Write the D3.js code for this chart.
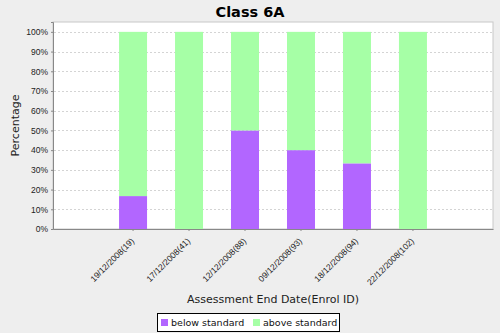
<!DOCTYPE html>
<html>
<head>
<meta charset="utf-8">
<script src="https://cdn.jsdelivr.net/npm/d3@7"></script>
<style>
  html, body { margin: 0; padding: 0; background: #eeeeee; }
  svg { display: block; font-family: "DejaVu Sans", sans-serif; }
</style>
</head>
<body>
<svg id="chart" width="500" height="333"></svg>
<script>
// Assessments (end date + enrolment id) and the share of results in each band
const categories = ["19/12/2008(19)", "17/12/2008(41)", "12/12/2008(88)", "09/12/2008(93)", "18/12/2008(94)", "22/12/2008(102)"];
const belowStandard = [16.7, 0, 50, 40, 33.3, 0];
const aboveStandard = [83.3, 100, 50, 60, 66.7, 100];
const seriesNames = ["below standard", "above standard"];
const seriesColors = ["#b266ff", "#a6ffa6"];
const yTicks = [0, 10, 20, 30, 40, 50, 60, 70, 80, 90, 100];

const svg = d3.select("#chart");
const plot = { left: 53, top: 22, right: 493, bottom: 229 };

const x = d3.scaleBand()
  .domain(categories)
  .range([plot.left, plot.right])
  .paddingInner(0.5)
  .paddingOuter(1.18);

const y = d3.scaleLinear()
  .domain([0, 105])
  .range([plot.bottom, plot.top]);

// Title
svg.append("text")
  .attr("x", 250).attr("y", 17)
  .attr("text-anchor", "middle")
  .attr("font-size", 14.5).attr("font-weight", "bold")
  .text("Class 6A");

// Plot background
svg.append("rect")
  .attr("x", plot.left).attr("y", plot.top)
  .attr("width", plot.right - plot.left).attr("height", plot.bottom - plot.top)
  .attr("fill", "#ffffff").attr("stroke", "#c8c8c8");

// Dotted gridlines
svg.append("g")
  .selectAll("line")
  .data(yTicks.filter(d => d > 0))
  .join("line")
  .attr("x1", plot.left + 1).attr("x2", plot.right - 1)
  .attr("y1", d => Math.round(y(d)) + 0.5).attr("y2", d => Math.round(y(d)) + 0.5)
  .attr("stroke", "#d4d4d4").attr("stroke-dasharray", "2,2");

// Stacked bars
const stackData = categories.map((c, i) => ({ cat: c, below: belowStandard[i], above: aboveStandard[i] }));
const stack = d3.stack().keys(["below", "above"])(stackData);

svg.append("g")
  .selectAll("g")
  .data(stack)
  .join("g")
  .attr("fill", (d, i) => seriesColors[i])
  .selectAll("rect")
  .data(d => d.filter(p => p[1] - p[0] > 0))
  .join("rect")
  .attr("x", d => x(d.data.cat))
  .attr("width", x.bandwidth())
  .attr("y", d => y(d[1]))
  .attr("height", d => y(d[0]) - y(d[1]));

// Y axis
const yAxis = svg.append("g")
  .attr("transform", `translate(${plot.left},0)`)
  .call(d3.axisLeft(y).tickValues(yTicks).tickFormat(d => d + "%").tickSize(2).tickPadding(3));
yAxis.select(".domain").attr("stroke", "#888888");
yAxis.selectAll(".tick line").attr("stroke", "#888888");
yAxis.selectAll("text").attr("font-size", 8.5).attr("fill", "#222222");

// X axis
const xAxis = svg.append("g")
  .attr("transform", `translate(0,${plot.bottom})`)
  .call(d3.axisBottom(x).tickSize(2).tickSizeOuter(0));
xAxis.select(".domain").attr("stroke", "#888888");
xAxis.selectAll(".tick line").attr("stroke", "#888888");
xAxis.selectAll("text")
  .attr("font-size", 8.5).attr("fill", "#222222")
  .attr("text-anchor", "end")
  .attr("dy", "0.35em")
  .attr("transform", "translate(-4,7) rotate(-45)");

// Axis titles
svg.append("text")
  .attr("x", (plot.left + plot.right) / 2).attr("y", 303)
  .attr("text-anchor", "middle")
  .attr("font-size", 11).attr("fill", "#222222")
  .text("Assessment End Date(Enrol ID)");

svg.append("text")
  .attr("transform", `translate(19,${(plot.top + plot.bottom) / 2}) rotate(-90)`)
  .attr("text-anchor", "middle")
  .attr("font-size", 11).attr("fill", "#222222")
  .text("Percentage");

// Legend
const legend = svg.append("g");
legend.append("rect")
  .attr("x", 157.5).attr("y", 313.5).attr("width", 182).attr("height", 18)
  .attr("fill", "#ffffff").attr("stroke", "#000000");
const items = [{ x: 161, i: 0 }, { x: 253, i: 1 }];
items.forEach(it => {
  legend.append("rect")
    .attr("x", it.x).attr("y", 319).attr("width", 7).attr("height", 7)
    .attr("fill", seriesColors[it.i]);
  legend.append("text")
    .attr("x", it.x + 10).attr("y", 326)
    .attr("font-size", 9.5).attr("fill", "#111111")
    .text(seriesNames[it.i]);
});
</script>
</body>
</html>
